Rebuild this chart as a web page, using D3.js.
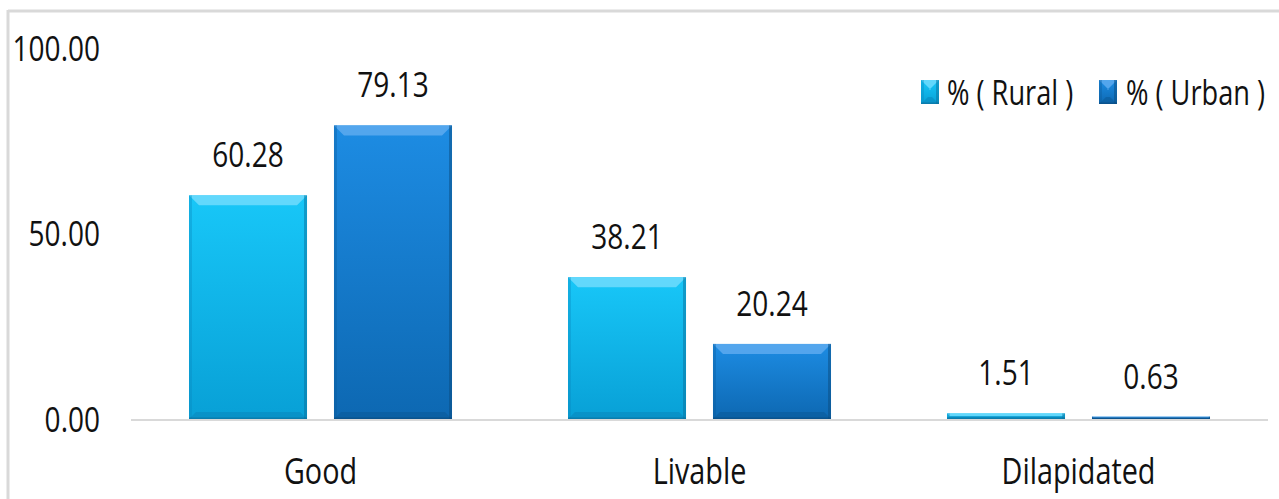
<!DOCTYPE html>
<html>
<head>
<meta charset="utf-8">
<script src="https://cdn.jsdelivr.net/npm/d3@7/dist/d3.min.js"></script>
<style>
  html, body { margin: 0; padding: 0; background: #ffffff; }
  svg { display: block; }
  text { font-family: "Open Sans", "Noto Sans", sans-serif; fill: #111; }
</style>
</head>
<body>
<svg id="chart" width="1279" height="499"></svg>
<script>
// Housing condition shares by area
const categories = ["Good", "Livable", "Dilapidated"];
const seriesNames = ["% ( Rural )", "% ( Urban )"];
const rural = [60.28, 38.21, 1.51];
const urban = [79.13, 20.24, 0.63];
const yTicks = [0, 50, 100];

const W = 1279, H = 499;
const svg = d3.select("#chart");

// Bar colour sets: body top/bottom, bevel light, bevel dark
const palette = [
  { top: "#18c7f8", bottom: "#08a0d6", light: "#6ad9fc", side: "#0aa9df", dark: "#0a86bc", edge: "#0a6f9c" },
  { top: "#1d8ce3", bottom: "#0d68b2", light: "#5aa9ee", side: "#1478c8", dark: "#0b5998", edge: "#0a4b80" }
];

const defs = svg.append("defs");
palette.forEach((p, i) => {
  const g = defs.append("linearGradient").attr("id", "body" + i)
    .attr("x1", 0).attr("y1", 0).attr("x2", 0).attr("y2", 1);
  g.append("stop").attr("offset", "0%").attr("stop-color", p.top);
  g.append("stop").attr("offset", "100%").attr("stop-color", p.bottom);
});

// Outer frame (top and left edges)
svg.append("line").attr("x1", 8).attr("x2", W).attr("y1", 11).attr("y2", 11)
  .attr("stroke", "#d9d9d9").attr("stroke-width", 3);
svg.append("line").attr("x1", 8).attr("x2", 8).attr("y1", 10).attr("y2", H)
  .attr("stroke", "#d9d9d9").attr("stroke-width", 3);

const x0 = d3.scaleBand().domain(categories).range([131, 1268]);
const x1 = d3.scaleBand().domain(seriesNames).range([0, x0.bandwidth()])
  .paddingInner(0.186).paddingOuter(0.4);
const y = d3.scaleLinear().domain([0, 100]).range([419, 48]);

const sx = 0.8; // horizontal text compression

// Y axis labels
const yAxis = svg.append("g").attr("transform", "translate(100,0)")
  .call(d3.axisLeft(y).tickValues(yTicks).tickFormat(d3.format(".2f")).tickSize(0).tickPadding(0));
yAxis.select(".domain").remove();
yAxis.selectAll(".tick text")
  .attr("x", 0).attr("dy", null).attr("y", 12)
  .attr("text-anchor", "end")
  .attr("font-family", null)
  .style("font-size", "35px")
  .attr("transform", `scale(${sx},1)`)
  .attr("fill", "#111");

// Baseline
svg.append("line").attr("x1", x0.range()[0]).attr("x2", x0.range()[1])
  .attr("y1", y(0) + 1).attr("y2", y(0) + 1)
  .attr("stroke", "#d9d9d9").attr("stroke-width", 2);

// Category labels
const xAxis = svg.append("g").attr("transform", `translate(0,${y(0)})`)
  .call(d3.axisBottom(x0).tickSize(0).tickPadding(0));
xAxis.select(".domain").remove();
xAxis.selectAll(".tick text")
  .attr("y", 0).attr("dy", null)
  .attr("font-family", null)
  .style("font-size", "36px")
  .attr("transform", `translate(0,65) scale(${sx},1)`)
  .attr("fill", "#111");

// Bevelled bar shape
function drawBar(g, x, yTop, w, h, p, idx) {
  const b = Math.min(10, h / 2);
  const s = Math.min(3, h / 2);
  const bb = Math.min(7, h / 2);
  g.append("rect").attr("x", x).attr("y", yTop).attr("width", w).attr("height", h)
    .attr("fill", `url(#body${idx})`);
  // top bevel
  g.append("polygon").attr("points",
    [[x, yTop], [x + w, yTop], [x + w - b, yTop + b], [x + b, yTop + b]].map(d => d.join(",")).join(" "))
    .attr("fill", p.light).attr("opacity", 0.9);
  // bottom bevel
  g.append("polygon").attr("points",
    [[x, yTop + h], [x + w, yTop + h], [x + w - bb, yTop + h - bb], [x + bb, yTop + h - bb]].map(d => d.join(",")).join(" "))
    .attr("fill", p.dark).attr("opacity", 0.55);
  // side shading
  g.append("rect").attr("x", x).attr("y", yTop).attr("width", s).attr("height", h)
    .attr("fill", p.dark).attr("opacity", 0.35);
  g.append("rect").attr("x", x + w - s).attr("y", yTop).attr("width", s).attr("height", h)
    .attr("fill", p.edge).attr("opacity", 0.5);
  g.append("rect").attr("x", x).attr("y", yTop + h - 1.5).attr("width", w).attr("height", 1.5)
    .attr("fill", p.edge).attr("opacity", 0.6);
}

const seriesData = [rural, urban];
const bars = svg.append("g");
categories.forEach((c, ci) => {
  seriesNames.forEach((s, si) => {
    const v = seriesData[si][ci];
    const bx = x0(c) + x1(s);
    const w = x1.bandwidth();
    drawBar(bars, bx, y(v), w, y(0) - y(v), palette[si], si);
    bars.append("text")
      .attr("transform", `translate(${bx + w / 2},${y(v) - 28}) scale(${sx},1)`)
      .attr("text-anchor", "middle")
      .style("font-size", "35px")
      .text(v.toFixed(2));
  });
});

// Legend
const legendItems = [
  { name: seriesNames[0], x: 921, text: 947 },
  { name: seriesNames[1], x: 1099, text: 1126 }
];
legendItems.forEach((d, i) => {
  const g = svg.append("g");
  drawBar(g, d.x, 80, 18, 24, palette[i], i);
  g.append("text")
    .attr("transform", `translate(${d.text},105) scale(${sx},1)`)
    .style("font-size", "34px")
    .text(d.name);
});
</script>
</body>
</html>
